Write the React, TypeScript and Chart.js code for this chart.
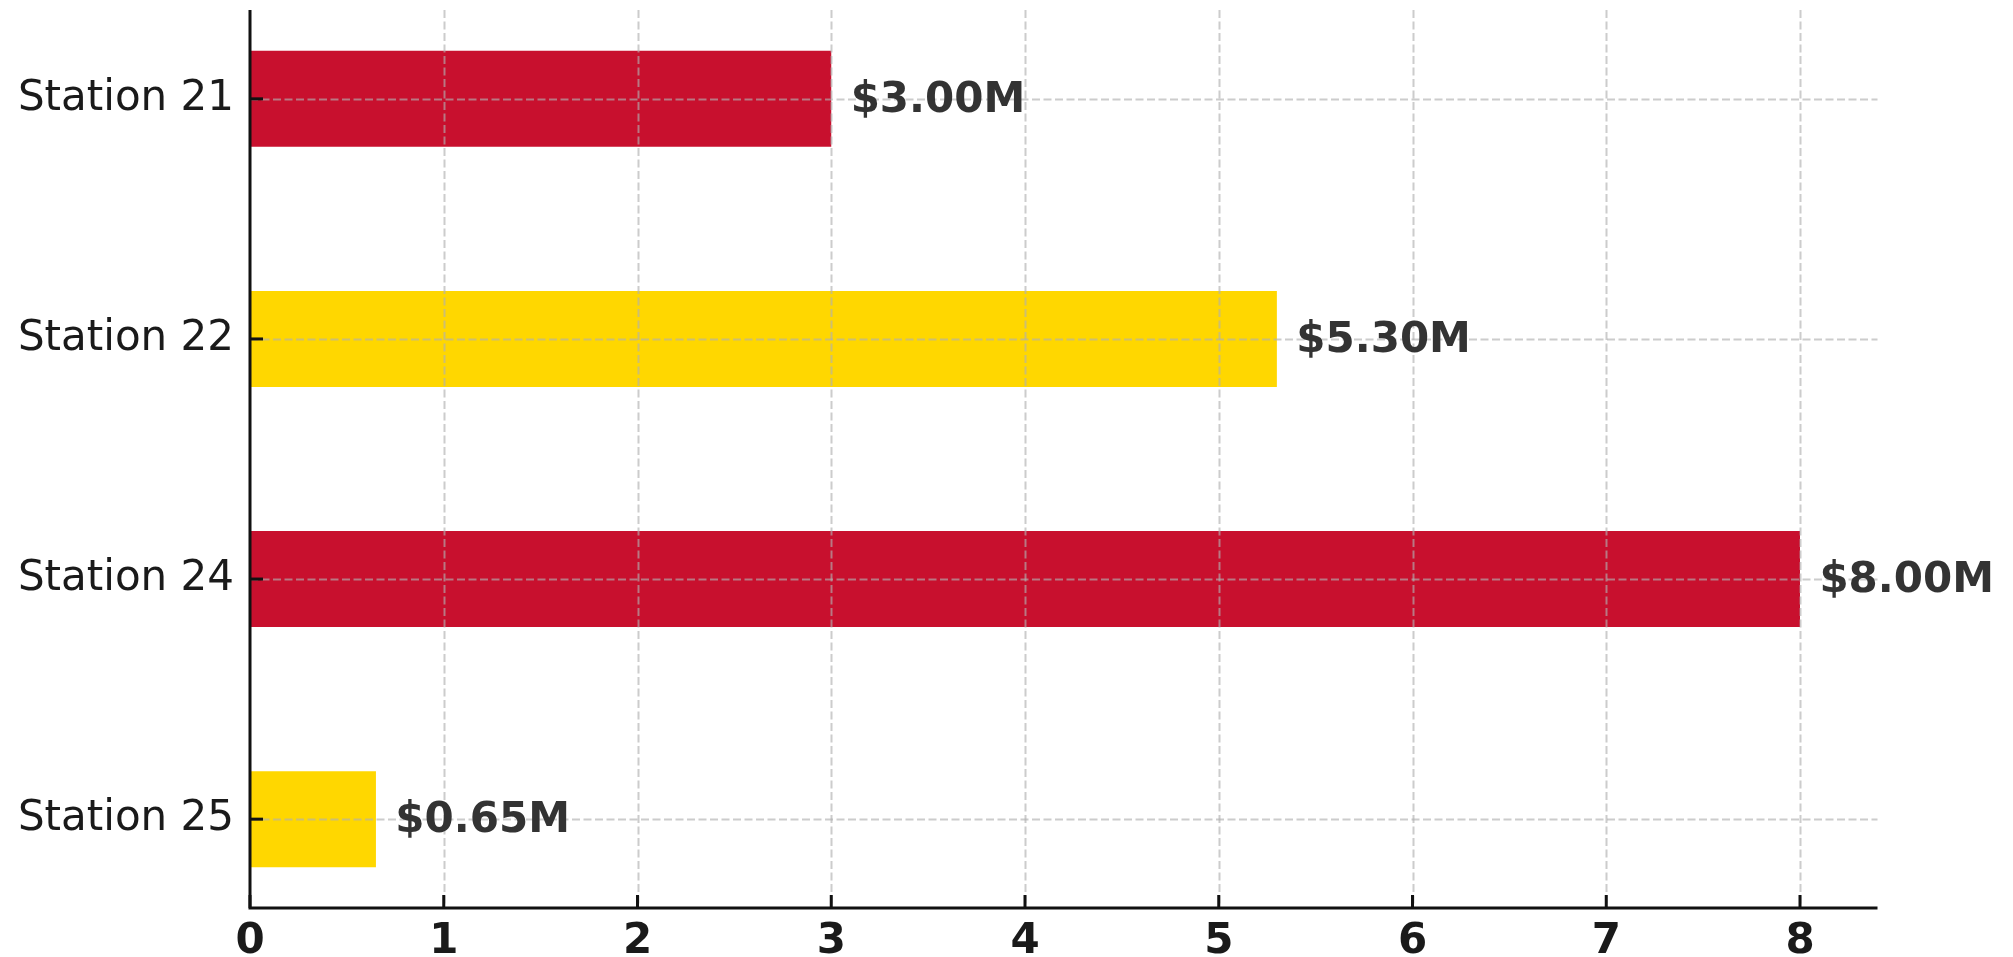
import React, { useEffect, useRef } from "react";
import { Chart, registerables } from "chart.js";

Chart.register(...registerables);

const categories = ["Station 21", "Station 22", "Station 24", "Station 25"];
const values = [3.0, 5.3, 8.0, 0.65];
const barColors = ["#C8102E", "#FFD700", "#C8102E", "#FFD700"];
const xTicks = [0, 1, 2, 3, 4, 5, 6, 7, 8];
const xMax = 8.4;
const labelOffset = 0.1;

const FONT = "'DejaVu Sans', sans-serif";

const overlay = {
  id: "overlay",
  afterDatasetsDraw(chart: any) {
    const { ctx, chartArea, scales } = chart;
    const { left, right, top, bottom } = chartArea;
    const xs = scales.x;
    const ys = scales.y;
    ctx.save();
    // grid lines (above bars, like matplotlib)
    ctx.strokeStyle = "rgba(176,176,176,0.65)";
    ctx.lineWidth = 2;
    ctx.setLineDash([8, 3.5]);
    xTicks.forEach((v) => {
      if (v === 0) return;
      const px = Math.round(xs.getPixelForValue(v)) + 0.5;
      ctx.beginPath();
      ctx.moveTo(px, top);
      ctx.lineTo(px, bottom);
      ctx.stroke();
    });
    categories.forEach((_, i) => {
      const py = Math.round(ys.getPixelForValue(i)) + 0.5;
      ctx.beginPath();
      ctx.moveTo(left, py);
      ctx.lineTo(right, py);
      ctx.stroke();
    });
    ctx.setLineDash([]);
    // tick marks (inward)
    ctx.strokeStyle = "#111";
    ctx.lineWidth = 3;
    xTicks.forEach((v) => {
      const px = xs.getPixelForValue(v);
      ctx.beginPath();
      ctx.moveTo(px, bottom);
      ctx.lineTo(px, bottom - 13);
      ctx.stroke();
    });
    categories.forEach((_, i) => {
      const py = ys.getPixelForValue(i);
      ctx.beginPath();
      ctx.moveTo(left, py);
      ctx.lineTo(left + 13, py);
      ctx.stroke();
    });
    // spines
    ctx.beginPath();
    ctx.moveTo(left, top);
    ctx.lineTo(left, bottom + 1.5);
    ctx.moveTo(left - 1.5, bottom);
    ctx.lineTo(right, bottom);
    ctx.stroke();
    // value labels
    ctx.font = `bold 42px ${FONT}`;
    ctx.fillStyle = "#333333";
    ctx.textAlign = "left";
    ctx.textBaseline = "middle";
    values.forEach((v, i) => {
      ctx.fillText(
        `$${v.toFixed(2)}M`,
        xs.getPixelForValue(v + labelOffset),
        ys.getPixelForValue(i) + 2
      );
    });
    ctx.restore();
  },
};

export default function App() {
  const canvasRef = useRef<HTMLCanvasElement>(null);

  useEffect(() => {
    const canvas = canvasRef.current;
    if (!canvas) return;
    const chart = new Chart(canvas, {
      type: "bar",
      data: {
        datasets: [
          {
            data: values.map((v, i) => ({ x: v, y: i })),
            backgroundColor: barColors,
            borderWidth: 0,
            categoryPercentage: 1,
            barPercentage: 0.4,
          },
        ],
      },
      options: {
        indexAxis: "y",
        responsive: false,
        animation: false,
        devicePixelRatio: 1,
        layout: { padding: { top: 10, right: 135.5, left: 0, bottom: 0 } },
        plugins: {
          legend: { display: false },
          tooltip: { enabled: false },
        },
        scales: {
          x: {
            type: "linear",
            min: 0,
            max: xMax,
            offset: false,
            grid: { display: false, drawTicks: false, offset: false },
            border: { display: false },
            afterBuildTicks: (s: any) => {
              s.ticks = xTicks.map((v) => ({ value: v }));
            },
            afterFit: (s: any) => {
              s.height = 49;
              s.paddingLeft = 0;
              s.paddingRight = 0;
            },
            ticks: {
              color: "#1a1a1a",
              padding: 9,
              maxRotation: 0,
              autoSkip: false,
              font: { family: FONT, size: 42, weight: "bold" },
              callback: (v: any) => String(v),
            },
          },
          y: {
            type: "linear",
            min: -0.37,
            max: 3.37,
            reverse: true,
            offset: false,
            grid: { display: false, drawTicks: false, offset: false },
            border: { display: false },
            afterBuildTicks: (s: any) => {
              s.ticks = categories.map((_, i) => ({ value: i }));
            },
            afterFit: (s: any) => {
              s.width = 250;
              s.paddingTop = 0;
              s.paddingBottom = 0;
            },
            ticks: {
              color: "#1a1a1a",
              padding: 16,
              autoSkip: false,
              font: { family: FONT, size: 42 },
              callback: (v: any) => categories[v] ?? "",
            },
          },
        },
      },
      plugins: [overlay],
    });
    return () => chart.destroy();
  }, []);

  return (
    <div style={{ position: "fixed", left: 0, top: 0, width: 2013, height: 957, background: "#fff" }}>
      <canvas ref={canvasRef} width={2013} height={957} style={{ display: "block" }} />
    </div>
  );
}
